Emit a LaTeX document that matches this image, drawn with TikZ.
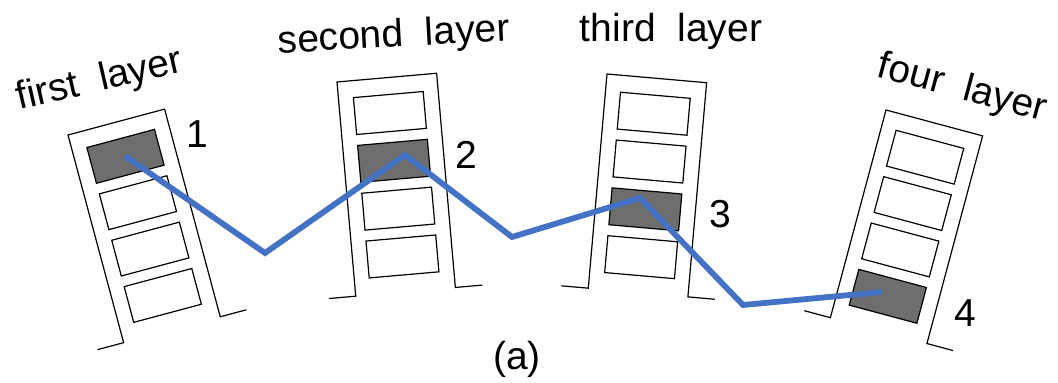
\documentclass[tikz,border=0pt]{standalone}
\usepackage{fontspec}
\setmainfont{Liberation Sans}
\definecolor{routeblue}{RGB}{68,114,196}

\begin{document}
\begin{tikzpicture}[
  x=0.5pt, y=-0.5pt,
  font=\fontsize{19.5}{23}\selectfont,
  frame/.style={draw=black, line width=0.6pt},
  cell/.style={draw=black, line width=0.6pt, minimum width=35pt, minimum height=18.5pt, inner sep=0pt},
  hit/.style={cell, fill=black!57},
  route/.style={draw=routeblue, line width=2.9pt}
]
\useasboundingbox (0,0) rectangle (1058,383);

% first layer
\begin{scope}[shift={(68,135)}, rotate=15, transform shape]
\draw[frame] (-27,215) -- (0,215) -- (0,0) -- (100,0) -- (100,215) -- (127,215);
\node[hit]  (c11) at (50,35.5) {};
\node[cell] (c12) at (50,83.5) {};
\node[cell] (c13) at (50,131.5) {};
\node[cell] (c14) at (50,179.5) {};
\end{scope}

% second layer
\begin{scope}[shift={(337,82)}, rotate=5, transform shape]
\draw[frame] (-27,215) -- (0,215) -- (0,0) -- (100,0) -- (100,215) -- (127,215);
\node[cell] (c21) at (50,35.5) {};
\node[hit]  (c22) at (50,83.5) {};
\node[cell] (c23) at (50,131.5) {};
\node[cell] (c24) at (50,179.5) {};
\end{scope}

% third layer
\begin{scope}[shift={(607,74)}, rotate=-5, transform shape]
\draw[frame] (-27,215) -- (0,215) -- (0,0) -- (100,0) -- (100,215) -- (127,215);
\node[cell] (c31) at (50,35.5) {};
\node[cell] (c32) at (50,83.5) {};
\node[hit]  (c33) at (50,131.5) {};
\node[cell] (c34) at (50,179.5) {};
\end{scope}

% four layer
\begin{scope}[shift={(886,110)}, rotate=-15, transform shape]
\draw[frame] (-27,215) -- (0,215) -- (0,0) -- (100,0) -- (100,215) -- (127,215);
\node[cell] (c41) at (50,35.5) {};
\node[cell] (c42) at (50,83.5) {};
\node[cell] (c43) at (50,131.5) {};
\node[hit]  (c44) at (50,179.5) {};
\end{scope}

\node[rotate=13] (l1) at (100,81) {first~~layer};
\node[rotate=3]  (l2) at (394,37) {second~~layer};
\node            (l3) at (671,31) {third~~layer};
\node[rotate=-15] (l4) at (962,89) {four~~layer};

\node (n1) at (197,134) {1};
\node (n2) at (466,155) {2};
\node (n3) at (720,214) {3};
\node (n4) at (965,313) {4};
\node (cap) at (517,359) {(a)};

\coordinate (v1) at (265,253);
\coordinate (p2) at (405,155);
\coordinate (v2) at (512,237);
\coordinate (p3) at (640,198);
\coordinate (v3) at (743,305);
\coordinate (p4) at (882,292);
\draw[route] (c11.center) -- (v1) -- (p2) -- (v2) -- (p3) -- (v3) -- (p4);
\end{tikzpicture}
\end{document}
